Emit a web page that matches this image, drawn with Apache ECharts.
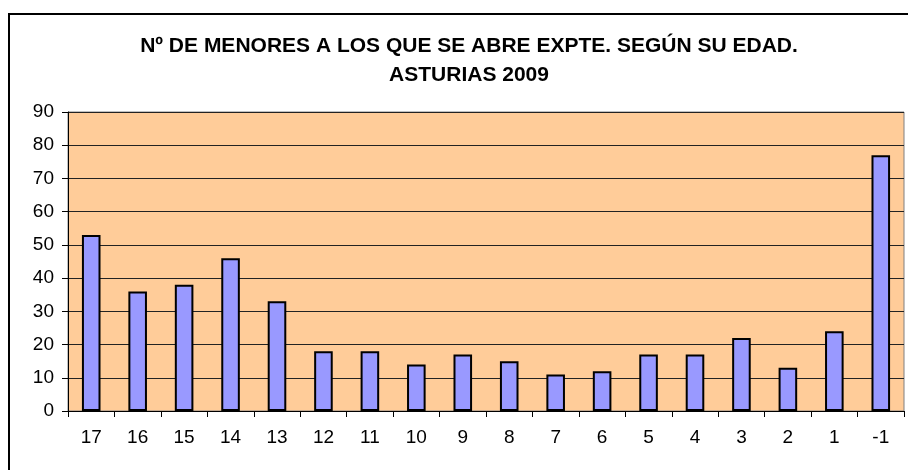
<!DOCTYPE html>
<html>
<head>
<meta charset="utf-8">
<script src="https://cdn.jsdelivr.net/npm/echarts@6/dist/echarts.min.js"></script>
<style>
  html, body { margin: 0; padding: 0; background: #fff; }
  #chart { width: 908px; height: 470px; }
</style>
</head>
<body>
<div id="chart"></div>
<script>
// edades (eje x) y nº de menores
var edades = ['17', '16', '15', '14', '13', '12', '11', '10', '9', '8', '7', '6', '5', '4', '3', '2', '1', '-1']
var menores = [53, 36, 38, 46, 33, 18, 18, 14, 17, 15, 11, 12, 17, 17, 22, 13, 24, 77]
var yTicks = [0, 10, 20, 30, 40, 50, 60, 70, 80, 90]

var myChart = echarts.init(document.getElementById('chart'))

var labelFont = 'Arial, Liberation Sans, sans-serif'

var option = {
  animation: false,
  graphic: [
    {
      // marco exterior
      type: 'rect',
      shape: { x: 9, y: 14, width: 920, height: 480 },
      style: { fill: 'none', stroke: '#000', lineWidth: 2 },
      z: 100
    }
  ],
  title: {
    text: 'Nº DE MENORES A LOS QUE SE ABRE EXPTE. SEGÚN SU EDAD.\nASTURIAS 2009',
    left: 464,
    top: 27,
    textAlign: 'center',
    textStyle: {
      fontSize: 21,
      fontWeight: 'bold',
      color: '#000',
      lineHeight: 29,
      fontFamily: labelFont
    }
  },
  grid: {
    left: 68,
    right: 4,
    top: 112,
    bottom: 59,
    show: true,
    backgroundColor: '#FFCC99',
    borderColor: '#808080',
    borderWidth: 1
  },
  xAxis: {
    type: 'category',
    data: edades,
    axisLine: { lineStyle: { color: '#000', width: 1 } },
    axisTick: { show: true, length: 6, lineStyle: { color: '#000' } },
    axisLabel: { color: '#000', fontSize: 19, fontFamily: labelFont, margin: 17 }
  },
  yAxis: {
    type: 'value',
    min: yTicks[0],
    max: yTicks[yTicks.length - 1],
    interval: 10,
    axisLine: { show: true, lineStyle: { color: '#000' } },
    axisTick: { show: true, length: 6, lineStyle: { color: '#000' } },
    axisLabel: { color: '#000', fontSize: 19, fontFamily: labelFont, margin: 14 },
    splitLine: { show: true, lineStyle: { color: '#222', width: 1 } }
  },
  series: [
    {
      type: 'bar',
      data: menores,
      barCategoryGap: '60%',
      itemStyle: {
        color: '#9999FF',
        borderColor: '#000',
        borderWidth: 2
      }
    }
  ]
}

myChart.setOption(option)
</script>
</body>
</html>
